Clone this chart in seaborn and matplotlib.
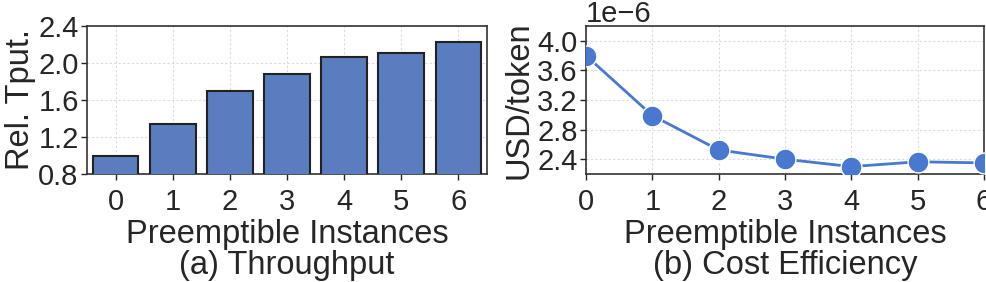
import numpy as np
import pandas as pd
import seaborn as sns
import matplotlib
matplotlib.use("Agg")
import matplotlib.pyplot as plt

instances = [0, 1, 2, 3, 4, 5, 6]
rel_tput = [1.00, 1.345, 1.695, 1.878, 2.068, 2.111, 2.224]
usd_per_token = [3.80e-6, 2.99e-6, 2.525e-6, 2.40e-6, 2.30e-6, 2.365e-6, 2.35e-6]

sns.set_theme(style="ticks")
plt.rcParams['font.family'] = ['Liberation Sans', 'DejaVu Sans']

TICK = 21
LABEL = 23.5

fig = plt.figure(figsize=(9.87, 2.82), dpi=100)
ax1 = fig.add_axes([87 / 987, 1 - 174 / 282, 400 / 987, 148 / 282])
ax2 = fig.add_axes([586 / 987, 1 - 174 / 282, 398 / 987, 148 / 282])

grid_kw = dict(color="#dcdcdc", linestyle=(0, (2, 2)), linewidth=0.8)

# (a) throughput bars
df_a = pd.DataFrame({"n": instances, "tput": rel_tput})
sns.barplot(data=df_a, x="n", y="tput", color="#5a7dbf", saturation=1,
            edgecolor="#222222", linewidth=1.5, width=0.8, ax=ax1, zorder=3)
ax1.set_ylim(0.8, 2.4)
ax1.set_yticks([0.8, 1.2, 1.6, 2.0, 2.4])
ax1.set_ylabel("Rel. Tput.", fontsize=LABEL, labelpad=2)
ax1.set_xlabel("Preemptible Instances\n(a) Throughput", fontsize=LABEL,
               linespacing=1.0, labelpad=2)
ax1.grid(True, **grid_kw)
ax1.set_axisbelow(True)

# (b) cost efficiency line
df_b = pd.DataFrame({"n": instances, "usd": usd_per_token})
sns.lineplot(data=df_b, x="n", y="usd", color="#4878d0", marker="o",
             markersize=15, markeredgecolor="white", markeredgewidth=1,
             linewidth=2, ax=ax2, zorder=3)
ax2.set_xlim(0, 6)
ax2.set_xticks(instances)
ax2.set_ylim(2.2e-6, 4.2e-6)
ax2.set_yticks([2.4e-6, 2.8e-6, 3.2e-6, 3.6e-6, 4.0e-6])
ax2.set_ylabel("USD/token", fontsize=LABEL, labelpad=2)
ax2.set_xlabel("Preemptible Instances\n(b) Cost Efficiency", fontsize=LABEL,
               linespacing=1.0, labelpad=2)
ax2.yaxis.get_offset_text().set_fontsize(TICK)
ax2.grid(True, **grid_kw)
ax2.set_axisbelow(True)

for ax in (ax1, ax2):
    ax.tick_params(labelsize=TICK, length=4, width=1)
    ax.tick_params(axis="x", pad=6)
    ax.tick_params(axis="y", pad=2)
    for s in ax.spines.values():
        s.set_color("#333333")
        s.set_linewidth(1.2)

fig.savefig("out.png", dpi=100)
